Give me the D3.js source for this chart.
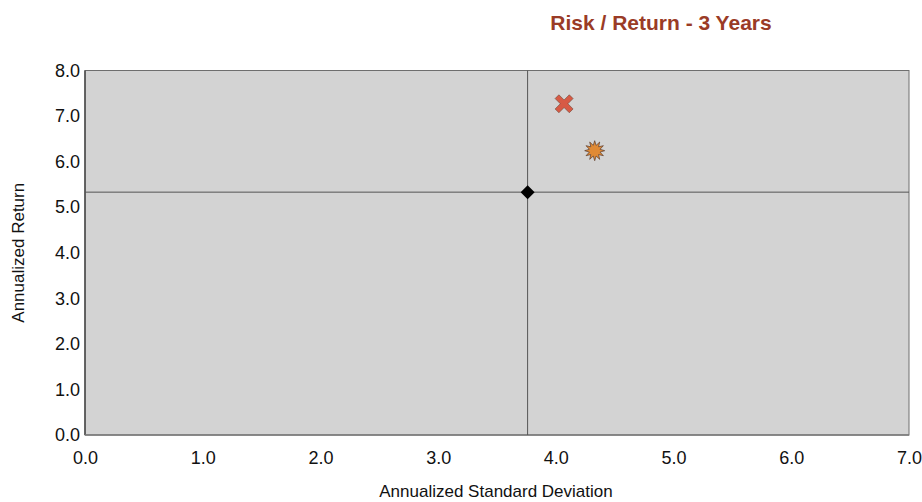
<!DOCTYPE html>
<html>
<head>
<meta charset="utf-8">
<script src="https://cdn.jsdelivr.net/npm/d3@7"></script>
<style>
  html, body { margin: 0; padding: 0; background: #ffffff; }
  svg text { font-family: "Liberation Sans Narrow", "Arial Narrow", "Liberation Sans", Arial, sans-serif; }
</style>
</head>
<body>
<svg id="chart" width="922" height="502"></svg>
<script>
// Risk / return scatter: annualized standard deviation vs annualized return
const seriesNames = ["Fund", "Benchmark", "Peer"];
const stdDev      = [4.07, 4.33, 3.76];
const annReturn   = [7.27, 6.24, 5.33];
const markerKinds = ["cross", "burst", "diamond"];
const markerFills = ["#d75a45", "#e08a35", "#000000"];

const xTicks = [0, 1, 2, 3, 4, 5, 6, 7];
const yTicks = [0, 1, 2, 3, 4, 5, 6, 7, 8];

const svg = d3.select("#chart");
const plot = { left: 85, top: 70.5, right: 909, bottom: 435 };

const x = d3.scaleLinear().domain([0, 7]).range([plot.left, plot.right]);
const y = d3.scaleLinear().domain([0, 8]).range([plot.bottom, plot.top]);

// title
svg.append("text")
  .attr("x", 661).attr("y", 30)
  .attr("text-anchor", "middle")
  .attr("font-size", 21).attr("font-weight", "bold")
  .attr("fill", "#9a3b26")
  .text("Risk / Return - 3 Years");

// plot background and frame
svg.append("rect")
  .attr("x", plot.left).attr("y", plot.top)
  .attr("width", plot.right - plot.left).attr("height", plot.bottom - plot.top)
  .attr("fill", "#d3d3d3").attr("stroke", "#6e6e6e").attr("stroke-width", 1);

// axes (labels only, no tick marks)
const xAxis = d3.axisBottom(x).tickValues(xTicks).tickFormat(d3.format(".1f")).tickSize(0).tickPadding(16);
const yAxis = d3.axisLeft(y).tickValues(yTicks).tickFormat(d3.format(".1f")).tickSize(0).tickPadding(5);

const gx = svg.append("g").attr("transform", `translate(0,${plot.bottom})`).call(xAxis);
const gy = svg.append("g").attr("transform", `translate(${plot.left},0)`).call(yAxis);
[gx, gy].forEach(g => {
  g.select(".domain").remove();
  g.selectAll("text").attr("font-size", 18).attr("fill", "#111");
});
gy.selectAll("text").attr("dy", "0.32em");

// darker left and bottom edges
svg.append("line").attr("x1", plot.left).attr("x2", plot.left)
  .attr("y1", plot.top).attr("y2", plot.bottom)
  .attr("stroke", "#4a4a4a").attr("stroke-width", 1.5);
svg.append("line").attr("x1", plot.left).attr("x2", plot.right)
  .attr("y1", plot.bottom).attr("y2", plot.bottom)
  .attr("stroke", "#7a7a7a").attr("stroke-width", 1.5);

// axis titles
svg.append("text")
  .attr("x", (plot.left + plot.right) / 2 - 1).attr("y", 497)
  .attr("text-anchor", "middle").attr("font-size", 17).attr("fill", "#111")
  .text("Annualized Standard Deviation");
svg.append("text")
  .attr("transform", `translate(24,${(plot.top + plot.bottom) / 2}) rotate(-90)`)
  .attr("text-anchor", "middle").attr("font-size", 17).attr("fill", "#111")
  .text("Annualized Return");

// crosshair through the reference (peer) point
const ref = 2;
svg.append("line")
  .attr("x1", x(stdDev[ref])).attr("x2", x(stdDev[ref]))
  .attr("y1", plot.top).attr("y2", plot.bottom)
  .attr("stroke", "#555").attr("stroke-width", 1);
svg.append("line")
  .attr("x1", plot.left).attr("x2", plot.right)
  .attr("y1", y(annReturn[ref])).attr("y2", y(annReturn[ref]))
  .attr("stroke", "#555").attr("stroke-width", 1);

// marker shapes
function burstPath(rOut, rIn, n) {
  const pts = [];
  for (let i = 0; i < 2 * n; i++) {
    const r = i % 2 === 0 ? rOut : rIn;
    const a = Math.PI * i / n - Math.PI / 2;
    pts.push([r * Math.cos(a), r * Math.sin(a)]);
  }
  return "M" + pts.map(p => p.join(",")).join("L") + "Z";
}
function crossPath(s, w) {
  // an X made of two rotated bars
  const pts = [[-w, 0], [-s, -s + w], [-s + w, -s], [0, -w], [s - w, -s], [s, -s + w],
               [w, 0], [s, s - w], [s - w, s], [0, w], [-s + w, s], [-s, s - w]];
  return "M" + pts.map(p => p.join(",")).join("L") + "Z";
}
const shapes = {
  cross: crossPath(9, 3.8),
  burst: burstPath(10, 5.5, 12),
  diamond: "M0,-7L7,0L0,7L-7,0Z"
};

const data = seriesNames.map((name, i) => ({
  name, sd: stdDev[i], ret: annReturn[i], kind: markerKinds[i], fill: markerFills[i]
}));

svg.append("g").selectAll("path")
  .data(data)
  .join("path")
  .attr("transform", d => `translate(${x(d.sd)},${y(d.ret)})`)
  .attr("d", d => shapes[d.kind])
  .attr("fill", d => d.fill)
  .attr("stroke", d => d.kind === "diamond" ? "none" : "#5a3a2a")
  .attr("stroke-width", d => d.kind === "burst" ? 0.7 : 0.5);
</script>
</body>
</html>
